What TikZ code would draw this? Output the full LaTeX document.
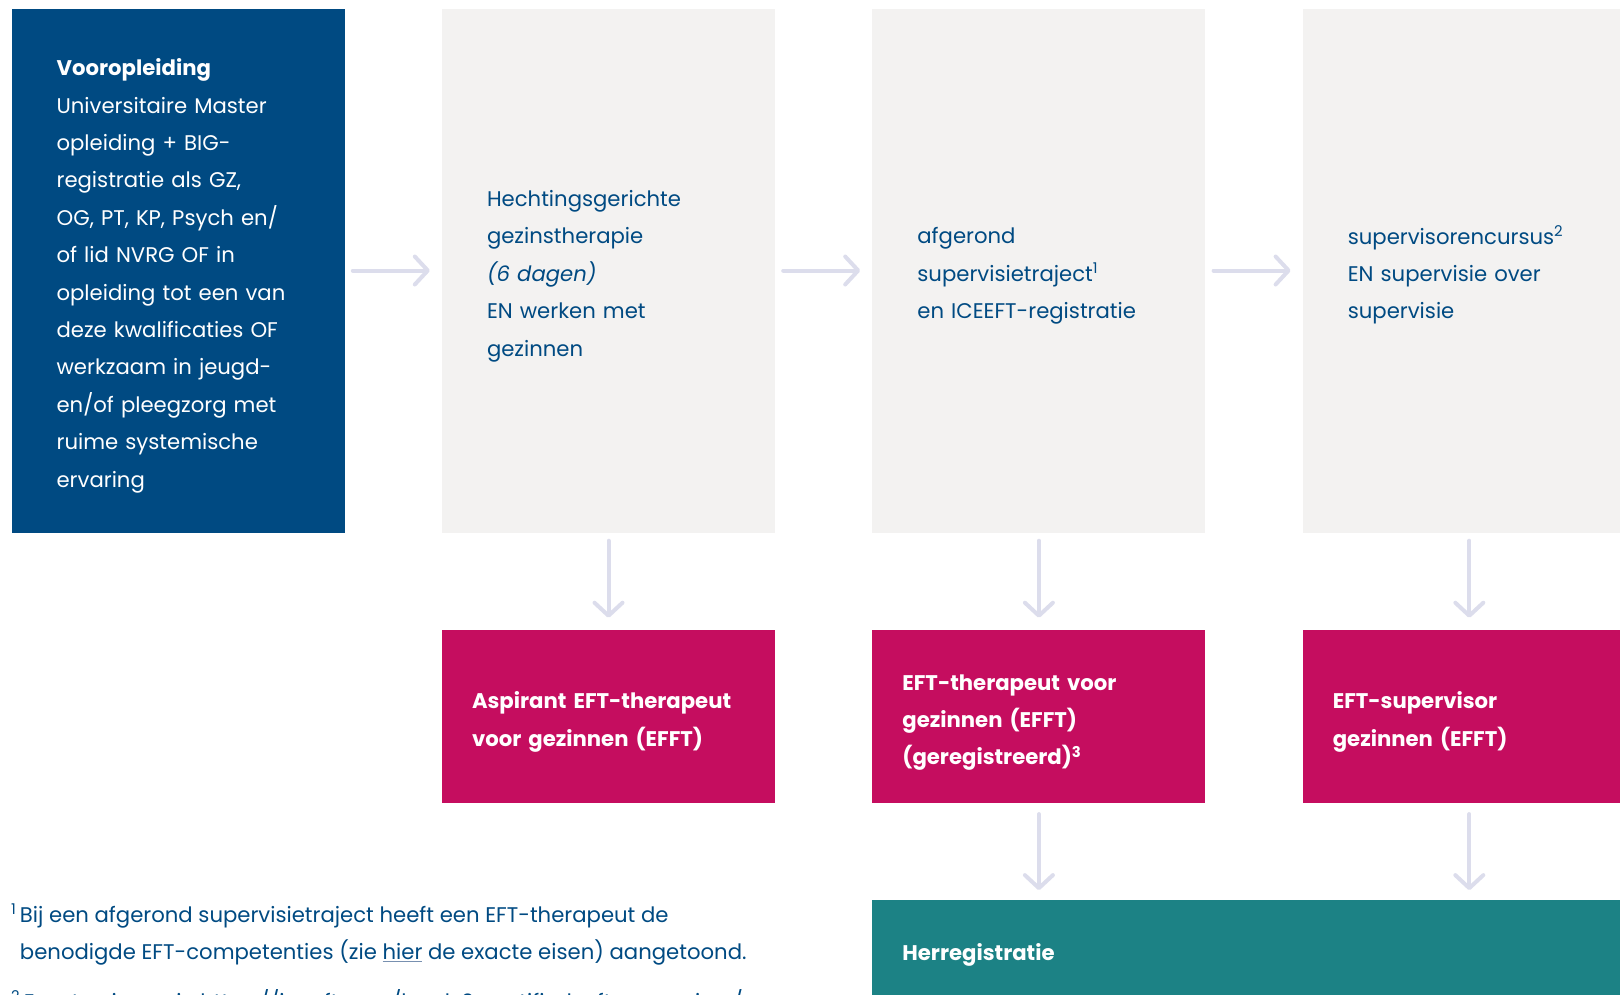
\documentclass[tikz,border=0pt]{standalone}
\usepackage{fontspec}
\setmainfont{Poppins}
\usetikzlibrary{arrows.meta,positioning}

\definecolor{eftblue}{HTML}{004A82}
\definecolor{eftgrey}{HTML}{F3F2F1}
\definecolor{eftmagenta}{HTML}{C50D5F}
\definecolor{eftteal}{HTML}{1C8285}
\definecolor{eftarrow}{HTML}{DCDDEC}
\definecolor{eftline}{HTML}{7890B0}

\newcommand{\bodyfont}{\fontsize{21.2}{37.4}\selectfont}
\newcommand{\fnmark}[1]{\textsuperscript{#1}}

\tikzset{
  stage/.style={rectangle, inner ysep=0pt, inner xsep=45pt,
    text width=243pt, minimum height=524pt, align=left, font=\bodyfont,
    execute at begin node={\rule{0pt}{27.5pt}}},
  startbox/.style={stage, fill=eftblue, text=white},
  coursebox/.style={stage, fill=eftgrey, text=eftblue},
  titlebox/.style={rectangle, inner ysep=0pt, inner xsep=30pt,
    text width=273pt, minimum height=173pt, align=left,
    fill=eftmagenta, text=white, font=\bodyfont\bfseries,
    execute at begin node={\rule{0pt}{28pt}}},
  flow/.style={draw=eftarrow, line width=4pt, line cap=round,
    -{Straight Barb[length=13pt,width=28pt,round]}}
}

\begin{document}
\begin{tikzpicture}
  \useasboundingbox (0,0) rectangle (1620pt,-994pt);
  \clip (0,0) rectangle (1620pt,-994pt);

  % top row
  \node[startbox, anchor=north west] (voor) at (11.4pt,-8.3pt)
    {\textbf{Vooropleiding}\\Universitaire Master\\opleiding + BIG-\\registratie als GZ,\\OG, PT, KP, Psych en/\\of lid NVRG OF in\\opleiding tot een van\\deze kwalificaties OF\\werkzaam in jeugd-\\en/of pleegzorg met\\ruime systemische\\ervaring};
  \node[coursebox, right=97pt of voor] (hgt)
    {Hechtingsgerichte\\gezinstherapie\\\textit{(6 dagen)}\\EN werken met\\gezinnen};
  \node[coursebox, right=97pt of hgt] (traject)
    {afgerond\\supervisietraject\fnmark{1}\\en ICEEFT-registratie};
  \node[coursebox, right=97pt of traject] (cursus)
    {supervisorencursus\fnmark{2}\\EN supervisie over\\supervisie};

  % titles
  \node[titlebox, below=97pt of hgt] (aspirant)
    {Aspirant EFT-therapeut\\voor gezinnen (EFFT)};
  \node[titlebox, below=97pt of traject] (therapeut)
    {EFT-therapeut voor\\gezinnen (EFFT)\\(geregistreerd)\fnmark{3}};
  \node[titlebox, below=97pt of cursus] (supervisor)
    {EFT-supervisor\\gezinnen (EFFT)};

  \node[rectangle, fill=eftteal, text=white, font=\bodyfont\bfseries,
    inner xsep=30pt, minimum height=110pt, text width=740pt, align=left,
    anchor=north west] (herreg) at ([yshift=-97pt]therapeut.south west)
    {Herregistratie};

  % arrows
  \draw[flow, shorten <=8pt, shorten >=12pt] (voor) -- (hgt);
  \draw[flow, shorten <=8pt, shorten >=12pt] (hgt) -- (traject);
  \draw[flow, shorten <=8pt, shorten >=12pt] (traject) -- (cursus);
  \draw[flow, shorten <=8pt, shorten >=12pt] (hgt) -- (aspirant);
  \draw[flow, shorten <=8pt, shorten >=12pt] (traject) -- (therapeut);
  \draw[flow, shorten <=8pt, shorten >=12pt] (cursus) -- (supervisor);
  \draw[flow, shorten <=11pt, shorten >=10pt] (therapeut.south) -- (therapeut.south |- herreg.north);
  \draw[flow, shorten <=11pt, shorten >=10pt] (supervisor.south) -- (supervisor.south |- herreg.north);

  % footnotes
  \node[anchor=north west, align=left, inner sep=0pt, text=eftblue, font=\bodyfont] (notes) at (11pt,-904pt)
    {\fnmark{1}\,Bij een afgerond supervisietraject heeft een EFT-therapeut de\\
     \hphantom{\fnmark{1}\,}benodigde EFT-competenties (zie {\color{eftline}\underline{\color{eftblue}hier}} de exacte eisen) aangetoond.\\[12pt]
     \fnmark{2}\,Exacte eisen: zie https://iceeft.com/level-2-certified-eft-supervisor/};
\end{tikzpicture}
\end{document}
